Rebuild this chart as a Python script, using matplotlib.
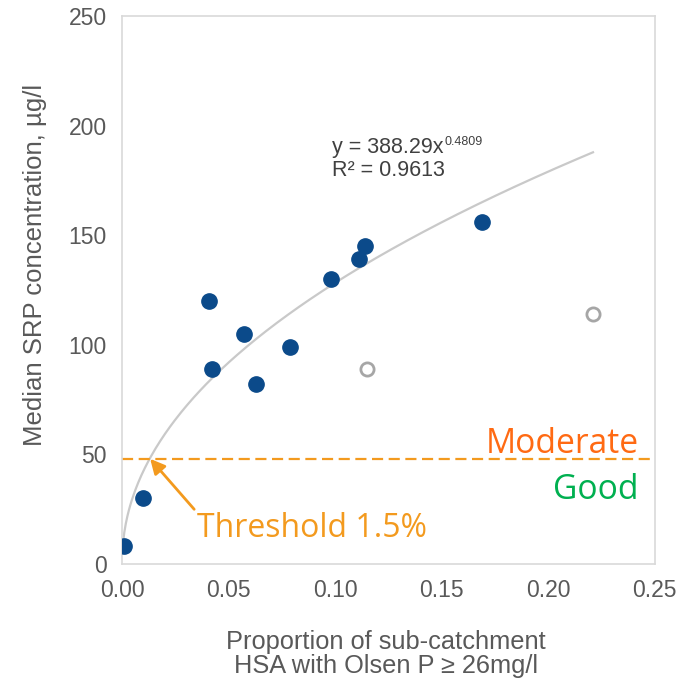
import numpy as np
import matplotlib
matplotlib.use("Agg")
import matplotlib.pyplot as plt

# data
x_fill = [0.001, 0.010, 0.041, 0.042, 0.057, 0.063, 0.079, 0.098, 0.111, 0.114, 0.169]
y_fill = [8, 30, 120, 89, 105, 82, 99, 130, 139, 145, 156]
x_open = [0.115, 0.221]
y_open = [89, 114]
coef = 388.29
expo = 0.4809
threshold_y = 48
threshold_x = 0.0132
xticks = [0.0, 0.05, 0.10, 0.15, 0.20, 0.25]
yticks = [0, 50, 100, 150, 200, 250]

plt.rcParams['font.family'] = ['Liberation Sans', 'DejaVu Sans']

fig = plt.figure(figsize=(6.91, 6.84), dpi=100)
ax = fig.add_axes([0.1766, 0.1754, 0.771, 0.801])

# power fit curve
xc = np.linspace(0.0003, 0.221, 300)
ax.plot(xc, coef * xc ** expo, color="#c9c9c9", lw=1.6, zorder=2)

# threshold line
ax.axhline(threshold_y, color="#f39a1e", lw=1.6, ls=(0, (5, 2.5)), zorder=2)

ax.plot(x_fill, y_fill, "o", color="#0b4a8a", ms=11, zorder=3)
ax.plot(x_open, y_open, "o", mfc="white", mec="#a6a6a6", mew=2, ms=9.5, zorder=3)

ax.set_xlim(0, 0.25)
ax.set_ylim(0, 250)
ax.set_xticks(xticks)
ax.set_yticks(yticks)
ax.set_xticklabels(["%.2f" % t for t in xticks])
ax.tick_params(length=0, labelsize=16.5, labelcolor="#595959", pad=11)
for s in ax.spines.values():
    s.set_color("#d9d9d9")
    s.set_linewidth(1.2)

fig.text(386 / 691, 1 - 654 / 684,
         "Proportion of sub-catchment\nHSA with Olsen P \u2265 26mg/l",
         fontsize=18.3, color="#595959", ha="center", va="center",
         linespacing=1.0)
fig.text(35 / 691, 1 - 265 / 684, "Median SRP concentration, \u00b5g/l",
         fontsize=18.5, color="#595959", ha="center", va="center",
         rotation=90)

# equation, superscript drawn smaller next to it
eq = ax.text(0.0985, 187.5, "y = 388.29x", fontsize=15.5, color="#404040",
             va="baseline", ha="left")
ax.text(0.0985, 177.0, "R\u00b2 = 0.9613", fontsize=15.5, color="#404040",
        va="baseline", ha="left")
fig.canvas.draw()
bb = eq.get_window_extent()
x_end = ax.transData.inverted().transform((bb.x1, bb.y1))[0]
ax.text(x_end + 0.0003, 191.2, "0.4809", fontsize=9, color="#404040",
        va="baseline", ha="left")

ax.text(0.2425, 50.5, "Moderate", fontsize=24.2, color="#ff6a13",
        ha="right", va="baseline", family="Open Sans")
ax.text(0.2425, 29.7, "Good", fontsize=24.2, color="#00b050",
        ha="right", va="baseline", family="Open Sans")
ax.annotate("Threshold 1.5%", xy=(threshold_x, threshold_y),
            xytext=(0.035, 12.3), fontsize=23, color="#f39a1e",
            family="Open Sans", va="baseline", ha="left",
            arrowprops=dict(arrowstyle="-|>", color="#f39a1e", lw=2,
                            mutation_scale=22, shrinkA=0, shrinkB=0,
                            relpos=(0, 1.0)))

fig.savefig("out.png", dpi=100)
